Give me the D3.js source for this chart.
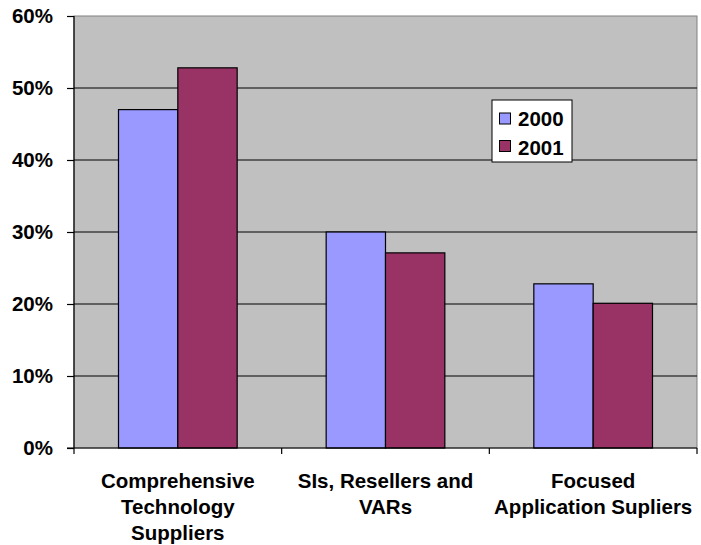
<!DOCTYPE html>
<html>
<head>
<meta charset="utf-8">
<script src="https://cdn.jsdelivr.net/npm/d3@7"></script>
<style>
  html, body { margin: 0; padding: 0; background: #fff; }
  svg text { font-family: Arial, "Liberation Sans", sans-serif; font-weight: bold; }
</style>
</head>
<body>
<script>
// Supplier categories, each a list of label lines
const categories = [
  ["Comprehensive", "Technology", "Suppliers"],
  ["SIs, Resellers and", "VARs"],
  ["Focused", "Application Supliers"]
];
const seriesNames = ["2000", "2001"];
const values2000 = [47.0, 30.0, 22.8];
const values2001 = [52.8, 27.1, 20.1];
const yTicks = [0, 10, 20, 30, 40, 50, 60];
const colors = ["#9999FF", "#993366"];

const W = 701, H = 545;
const m = { left: 74, top: 16, right: 697, bottom: 448 };
const FS = 20.5;

const svg = d3.select("body").append("svg")
  .attr("width", W).attr("height", H);

const x0 = d3.scaleBand()
  .domain(d3.range(categories.length))
  .range([m.left, m.right])
  .paddingInner(0).paddingOuter(0);

// two bars with a gap 1.5x the bar width between groups
const x1 = d3.scaleBand()
  .domain(seriesNames)
  .range([0, x0.bandwidth()])
  .paddingInner(0)
  .paddingOuter(0.75);

const y = d3.scaleLinear().domain([0, 60]).range([m.bottom, m.top]);

// plot area
svg.append("rect")
  .attr("x", m.left).attr("y", m.top)
  .attr("width", m.right - m.left).attr("height", m.bottom - m.top)
  .attr("fill", "#C0C0C0")
  .attr("stroke", "#808080").attr("stroke-width", 1);

// y axis with gridlines
const yAxis = svg.append("g")
  .attr("transform", `translate(${m.left},0)`)
  .call(d3.axisLeft(y).tickValues(yTicks).tickFormat(d => d + "%")
    .tickSize(7).tickPadding(14));
yAxis.select(".domain").remove();
yAxis.selectAll(".tick line").attr("stroke", "#000").attr("stroke-width", 1.2);
yAxis.selectAll(".tick text")
  .attr("font-size", FS).attr("fill", "#000")
  .attr("font-family", "Arial, 'Liberation Sans', sans-serif")
  .attr("font-weight", "bold");

svg.append("g").selectAll("line")
  .data(yTicks.filter(t => t > 0 && t < 60))
  .join("line")
  .attr("x1", m.left).attr("x2", m.right)
  .attr("y1", d => y(d)).attr("y2", d => y(d))
  .attr("stroke", "#000").attr("stroke-width", 1.2);

// bars
const data = categories.map((c, i) => [values2000[i], values2001[i]]);
const groups = svg.append("g").selectAll("g")
  .data(data).join("g")
  .attr("transform", (d, i) => `translate(${x0(i)},0)`);
groups.selectAll("rect")
  .data(d => d.map((v, j) => ({ v, j })))
  .join("rect")
  .attr("x", d => x1(seriesNames[d.j]))
  .attr("width", x1.bandwidth())
  .attr("y", d => y(d.v))
  .attr("height", d => y(0) - y(d.v))
  .attr("fill", d => colors[d.j])
  .attr("stroke", "#000").attr("stroke-width", 1.2);

// axes lines
svg.append("line")
  .attr("x1", m.left).attr("x2", m.left)
  .attr("y1", m.top).attr("y2", m.bottom)
  .attr("stroke", "#000").attr("stroke-width", 1.2);
svg.append("line")
  .attr("x1", m.left - 7).attr("x2", m.right)
  .attr("y1", m.bottom).attr("y2", m.bottom)
  .attr("stroke", "#000").attr("stroke-width", 1.2);
// category tick marks
svg.append("g").selectAll("line")
  .data(d3.range(categories.length + 1))
  .join("line")
  .attr("x1", i => m.left + i * x0.step())
  .attr("x2", i => m.left + i * x0.step())
  .attr("y1", m.bottom).attr("y2", m.bottom + 6)
  .attr("stroke", "#000").attr("stroke-width", 1.2);

// category labels
const lab = svg.append("g").selectAll("text")
  .data(categories).join("text")
  .attr("x", (d, i) => x0(i) + x0.bandwidth() / 2)
  .attr("y", 488)
  .attr("text-anchor", "middle")
  .attr("font-size", FS)
  .attr("fill", "#000");
lab.selectAll("tspan")
  .data(d => d).join("tspan")
  .attr("x", function () { return this.parentNode.getAttribute("x"); })
  .attr("dy", (d, i) => i === 0 ? 0 : 26)
  .text(d => d);

// legend
const lg = svg.append("g").attr("transform", "translate(492,100)");
lg.append("rect").attr("width", 80).attr("height", 62)
  .attr("fill", "#fff").attr("stroke", "#000").attr("stroke-width", 1);
seriesNames.forEach((s, i) => {
  lg.append("rect")
    .attr("x", 7.5).attr("y", 13 + i * 27.5)
    .attr("width", 11).attr("height", 11)
    .attr("fill", colors[i]).attr("stroke", "#000").attr("stroke-width", 1);
  lg.append("text")
    .attr("x", 26).attr("y", 26 + i * 29)
    .attr("font-size", FS).attr("fill", "#000")
    .text(s);
});
</script>
</body>
</html>
